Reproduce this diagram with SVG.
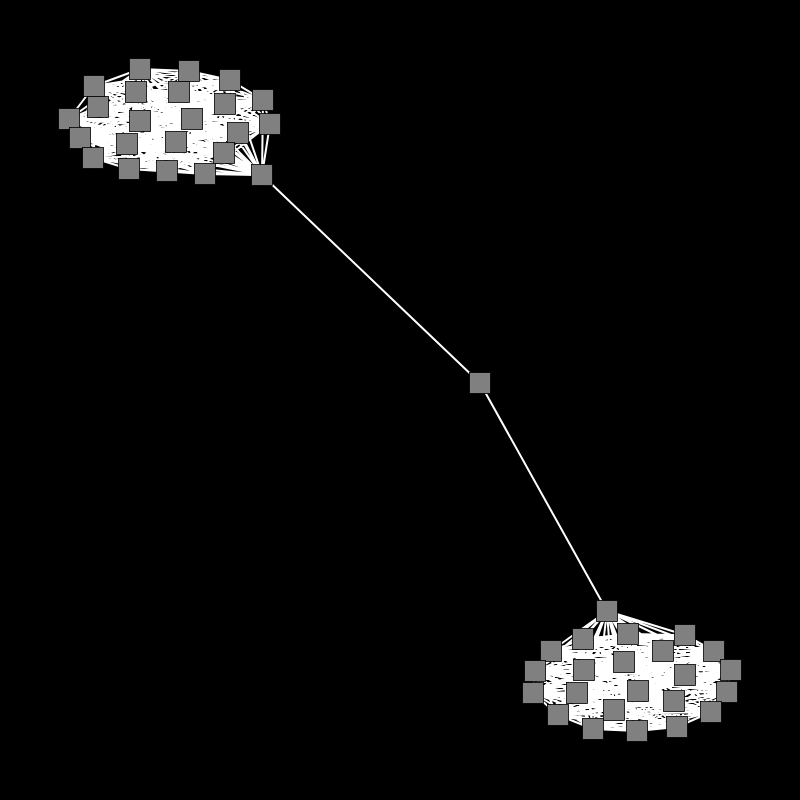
<svg xmlns="http://www.w3.org/2000/svg" width="800" height="800" viewBox="0 0 800 800">
<style>
.e{fill:none;stroke:#fff;stroke-width:2;stroke-linejoin:round;stroke-linecap:round}
.n{fill:#808080;stroke:#000;stroke-width:0.8;width:21px;height:21px}
</style>
<rect x="0" y="0" width="800" height="800" fill="#000"/>
<g id="connectors">
<polyline class="e" points="140,69 189,71 230,80 94,86 136,92 179,92 98,107 225,104 263,100 69,119 140,121 192,119 270,124 238,133 80,138 127,144 176,142 224,153 93,158 129,169 167,171 205,174 262,175
140,69 230,80 136,92 98,107 263,100 140,121 270,124 80,138 176,142 93,158 167,171 262,175 189,71 94,86 179,92 225,104 69,119 192,119 238,133 127,144 224,153 129,169 205,174
140,69 94,86 98,107 69,119 270,124 127,144 93,158 205,174 189,71 136,92 225,104 140,121 238,133 176,142 129,169 262,175 230,80 179,92 263,100 192,119 80,138 224,153 167,171
140,69 136,92 263,100 270,124 176,142 167,171 189,71 179,92 69,119 238,133 224,153 205,174 230,80 98,107 140,121 80,138 93,158 262,175 94,86 225,104 192,119 127,144 129,169
140,69 179,92 140,121 127,144 167,171 230,80 225,104 270,124 224,153 262,175 136,92 69,119 80,138 129,169 189,71 98,107 192,119 176,142 205,174 94,86 263,100 238,133 93,158
140,69 98,107 270,124 93,158 189,71 225,104 238,133 129,169 230,80 263,100 80,138 167,171 94,86 69,119 127,144 205,174 136,92 140,121 176,142 262,175 179,92 192,119 224,153
140,69 225,104 80,138 205,174 179,92 270,124 129,169 94,86 140,121 224,153 189,71 263,100 127,144 262,175 98,107 238,133 167,171 136,92 192,119 93,158 230,80 69,119 176,142
140,69 263,100 176,142 189,71 69,119 224,153 230,80 140,121 93,158 94,86 192,119 129,169 136,92 270,124 167,171 179,92 238,133 205,174 98,107 80,138 262,175 225,104 127,144
140,69 69,119 93,158 136,92 238,133 262,175 263,100 224,153 94,86 270,124 205,174 225,104 176,142 230,80 192,119 167,171 98,107 127,144 189,71 140,121 129,169 179,92 80,138
140,69 140,121 167,171 225,104 224,153 136,92 80,138 189,71 192,119 205,174 263,100 93,158 179,92 127,144 230,80 270,124 262,175 69,119 129,169 98,107 176,142 94,86 238,133
140,69 192,119 262,175 140,121 205,174 69,119 167,171 263,100 129,169 225,104 93,158 98,107 224,153 179,92 176,142 136,92 127,144 94,86 80,138 230,80 238,133 189,71 270,124 140,69"/>
<polyline class="e" points="607,611 628,634 685,635 583,639 663,651 551,651 714,651 624,662 584,670 535,671 731,670 685,675 638,691 577,693 533,693 727,692 674,701 614,710 711,712 558,715 677,727 593,729 637,731
607,611 685,635 663,651 714,651 584,670 731,670 638,691 533,693 674,701 711,712 677,727 637,731 628,634 583,639 551,651 624,662 535,671 685,675 577,693 727,692 614,710 558,715 593,729
607,611 583,639 714,651 535,671 638,691 727,692 711,712 593,729 628,634 663,651 624,662 731,670 577,693 674,701 558,715 637,731 685,635 551,651 584,670 685,675 533,693 614,710 677,727
607,611 663,651 584,670 638,691 674,701 677,727 628,634 551,651 535,671 577,693 614,710 593,729 685,635 714,651 731,670 533,693 711,712 637,731 583,639 624,662 685,675 727,692 558,715
607,611 551,651 731,670 727,692 677,727 685,635 624,662 638,691 614,710 637,731 663,651 535,671 533,693 558,715 628,634 714,651 685,675 674,701 593,729 583,639 584,670 577,693 711,712
607,611 714,651 638,691 711,712 628,634 624,662 577,693 558,715 685,635 584,670 533,693 677,727 583,639 535,671 727,692 593,729 663,651 731,670 674,701 637,731 551,651 685,675 614,710
607,611 624,662 533,693 593,729 551,651 638,691 558,715 583,639 731,670 614,710 628,634 584,670 727,692 637,731 714,651 577,693 677,727 663,651 685,675 711,712 685,635 535,671 674,701
607,611 584,670 674,701 628,634 535,671 614,710 685,635 731,670 711,712 583,639 685,675 558,715 663,651 638,691 677,727 551,651 577,693 593,729 714,651 533,693 637,731 624,662 727,692
607,611 535,671 711,712 663,651 577,693 637,731 584,670 614,710 583,639 638,691 593,729 624,662 674,701 685,635 685,675 677,727 714,651 727,692 628,634 731,670 558,715 551,651 533,693
607,611 731,670 677,727 624,662 614,710 663,651 533,693 628,634 685,675 593,729 584,670 711,712 551,651 727,692 685,635 638,691 637,731 535,671 558,715 714,651 674,701 583,639 577,693
607,611 685,675 637,731 731,670 593,729 535,671 677,727 584,670 558,715 624,662 711,712 714,651 614,710 551,651 674,701 663,651 727,692 583,639 533,693 685,635 577,693 628,634 638,691 607,611"/>
<polyline class="e" points="262,175 480,383 607,611"/>
</g>
<g id="a0"><rect class="n" x="129.5" y="58.5" width="21" height="21"/></g>
<g id="a1"><rect class="n" x="178.5" y="60.5" width="21" height="21"/></g>
<g id="a2"><rect class="n" x="219.5" y="69.5" width="21" height="21"/></g>
<g id="a3"><rect class="n" x="83.5" y="75.5" width="21" height="21"/></g>
<g id="a4"><rect class="n" x="125.5" y="81.5" width="21" height="21"/></g>
<g id="a5"><rect class="n" x="168.5" y="81.5" width="21" height="21"/></g>
<g id="a6"><rect class="n" x="87.5" y="96.5" width="21" height="21"/></g>
<g id="a7"><rect class="n" x="214.5" y="93.5" width="21" height="21"/></g>
<g id="a8"><rect class="n" x="252.5" y="89.5" width="21" height="21"/></g>
<g id="a9"><rect class="n" x="58.5" y="108.5" width="21" height="21"/></g>
<g id="a10"><rect class="n" x="129.5" y="110.5" width="21" height="21"/></g>
<g id="a11"><rect class="n" x="181.5" y="108.5" width="21" height="21"/></g>
<g id="a12"><rect class="n" x="259.5" y="113.5" width="21" height="21"/></g>
<g id="a13"><rect class="n" x="227.5" y="122.5" width="21" height="21"/></g>
<g id="a14"><rect class="n" x="69.5" y="127.5" width="21" height="21"/></g>
<g id="a15"><rect class="n" x="116.5" y="133.5" width="21" height="21"/></g>
<g id="a16"><rect class="n" x="165.5" y="131.5" width="21" height="21"/></g>
<g id="a17"><rect class="n" x="213.5" y="142.5" width="21" height="21"/></g>
<g id="a18"><rect class="n" x="82.5" y="147.5" width="21" height="21"/></g>
<g id="a19"><rect class="n" x="118.5" y="158.5" width="21" height="21"/></g>
<g id="a20"><rect class="n" x="156.5" y="160.5" width="21" height="21"/></g>
<g id="a21"><rect class="n" x="194.5" y="163.5" width="21" height="21"/></g>
<g id="a22"><rect class="n" x="251.5" y="164.5" width="21" height="21"/></g>
<g id="m"><rect class="n" x="469.5" y="372.5" width="21" height="21"/></g>
<g id="b0"><rect class="n" x="596.5" y="600.5" width="21" height="21"/></g>
<g id="b1"><rect class="n" x="617.5" y="623.5" width="21" height="21"/></g>
<g id="b2"><rect class="n" x="674.5" y="624.5" width="21" height="21"/></g>
<g id="b3"><rect class="n" x="572.5" y="628.5" width="21" height="21"/></g>
<g id="b4"><rect class="n" x="652.5" y="640.5" width="21" height="21"/></g>
<g id="b5"><rect class="n" x="540.5" y="640.5" width="21" height="21"/></g>
<g id="b6"><rect class="n" x="703.5" y="640.5" width="21" height="21"/></g>
<g id="b7"><rect class="n" x="613.5" y="651.5" width="21" height="21"/></g>
<g id="b8"><rect class="n" x="573.5" y="659.5" width="21" height="21"/></g>
<g id="b9"><rect class="n" x="524.5" y="660.5" width="21" height="21"/></g>
<g id="b10"><rect class="n" x="720.5" y="659.5" width="21" height="21"/></g>
<g id="b11"><rect class="n" x="674.5" y="664.5" width="21" height="21"/></g>
<g id="b12"><rect class="n" x="627.5" y="680.5" width="21" height="21"/></g>
<g id="b13"><rect class="n" x="566.5" y="682.5" width="21" height="21"/></g>
<g id="b14"><rect class="n" x="522.5" y="682.5" width="21" height="21"/></g>
<g id="b15"><rect class="n" x="716.5" y="681.5" width="21" height="21"/></g>
<g id="b16"><rect class="n" x="663.5" y="690.5" width="21" height="21"/></g>
<g id="b17"><rect class="n" x="603.5" y="699.5" width="21" height="21"/></g>
<g id="b18"><rect class="n" x="700.5" y="701.5" width="21" height="21"/></g>
<g id="b19"><rect class="n" x="547.5" y="704.5" width="21" height="21"/></g>
<g id="b20"><rect class="n" x="666.5" y="716.5" width="21" height="21"/></g>
<g id="b21"><rect class="n" x="582.5" y="718.5" width="21" height="21"/></g>
<g id="b22"><rect class="n" x="626.5" y="720.5" width="21" height="21"/></g>
</svg>
